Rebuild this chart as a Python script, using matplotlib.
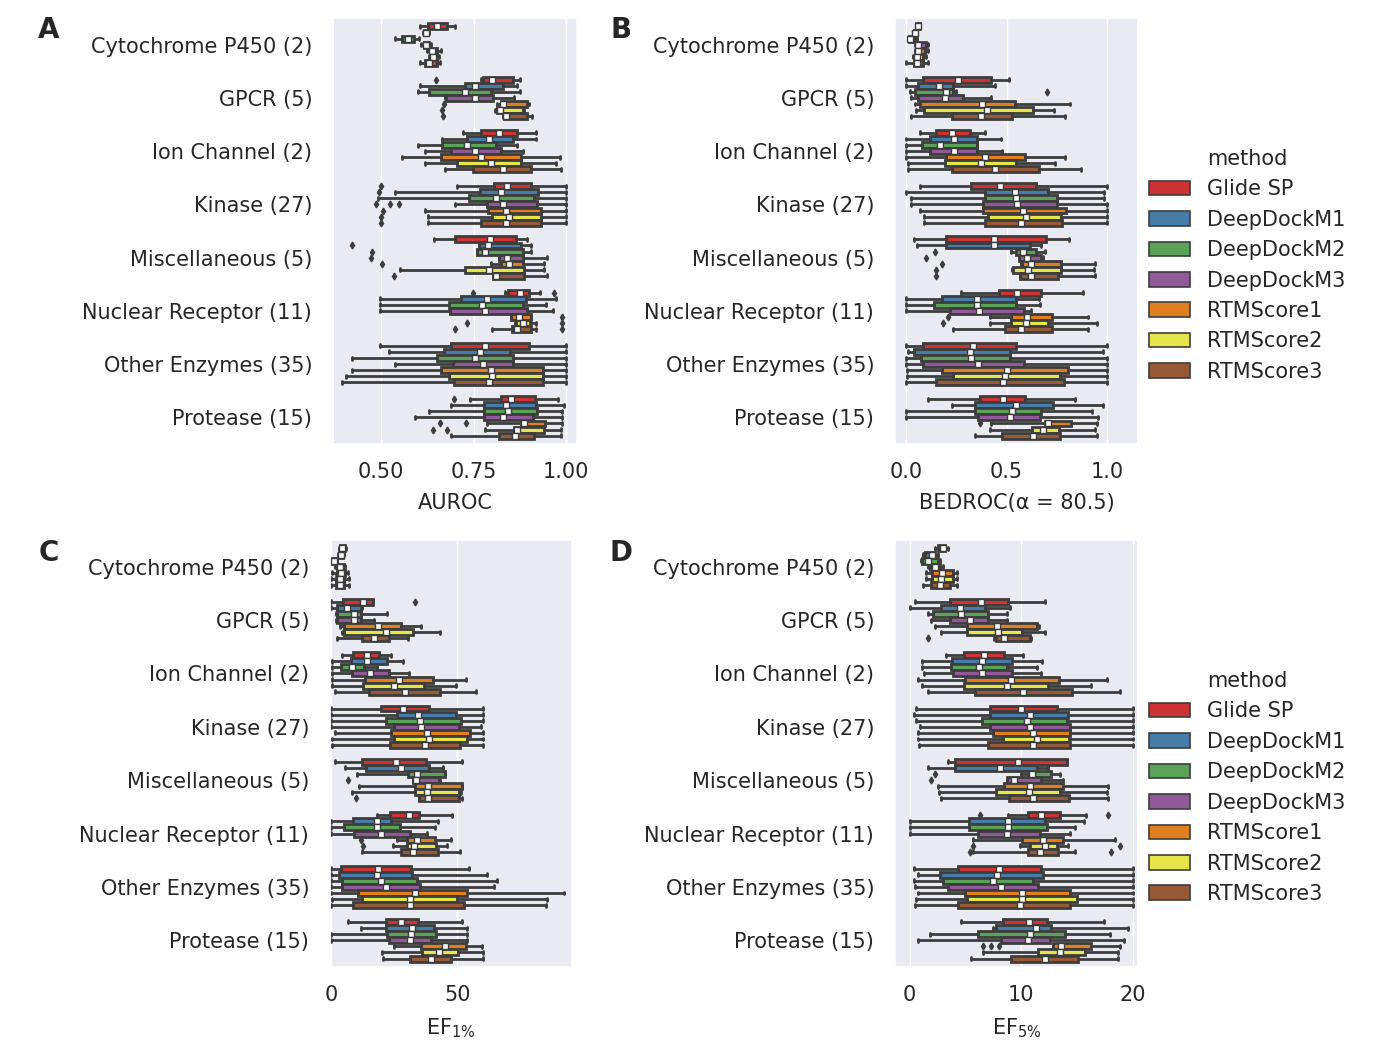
import matplotlib
matplotlib.use('Agg')
import matplotlib.pyplot as plt
import seaborn as sns
from matplotlib.patches import Patch

sns.set_theme(style='darkgrid')
plt.rcParams['font.family'] = ['DejaVu Sans']

categories = ['Cytochrome P450 (2)', 'GPCR (5)', 'Ion Channel (2)', 'Kinase (27)',
              'Miscellaneous (5)', 'Nuclear Receptor (11)', 'Other Enzymes (35)', 'Protease (15)']
methods = ['Glide SP', 'DeepDockM1', 'DeepDockM2', 'DeepDockM3', 'RTMScore1', 'RTMScore2', 'RTMScore3']

# AUROC box stats (rows = categories, cols = methods)
auroc_lo = [[0.605, 0.614, 0.539, 0.608, 0.625, 0.629, 0.606],
            [0.769, 0.605, 0.599, 0.672, 0.814, 0.808, 0.830],
            [0.722, 0.665, 0.599, 0.620, 0.557, 0.620, 0.672],
            [0.706, 0.537, 0.492, 0.701, 0.618, 0.627, 0.627],
            [0.643, 0.764, 0.760, 0.819, 0.796, 0.552, 0.801],
            [0.835, 0.498, 0.498, 0.498, 0.850, 0.862, 0.799],
            [0.498, 0.521, 0.423, 0.539, 0.423, 0.406, 0.394],
            [0.740, 0.690, 0.631, 0.593, 0.787, 0.782, 0.690]]
auroc_q1 = [[0.626, 0.616, 0.557, 0.616, 0.632, 0.634, 0.620],
            [0.776, 0.726, 0.631, 0.676, 0.823, 0.812, 0.832],
            [0.769, 0.731, 0.665, 0.690, 0.661, 0.706, 0.749],
            [0.805, 0.767, 0.737, 0.787, 0.790, 0.799, 0.771],
            [0.701, 0.764, 0.760, 0.819, 0.823, 0.728, 0.801],
            [0.843, 0.715, 0.683, 0.686, 0.852, 0.864, 0.853],
            [0.688, 0.670, 0.650, 0.695, 0.661, 0.683, 0.697],
            [0.825, 0.778, 0.778, 0.778, 0.879, 0.859, 0.819]]
auroc_med = [[0.652, 0.622, 0.572, 0.622, 0.638, 0.641, 0.631],
             [0.800, 0.754, 0.727, 0.753, 0.829, 0.820, 0.837],
             [0.819, 0.792, 0.733, 0.755, 0.769, 0.796, 0.828],
             [0.839, 0.825, 0.810, 0.828, 0.838, 0.846, 0.837],
             [0.794, 0.790, 0.780, 0.840, 0.845, 0.792, 0.810],
             [0.875, 0.787, 0.773, 0.782, 0.873, 0.882, 0.868],
             [0.780, 0.766, 0.754, 0.776, 0.798, 0.799, 0.792],
             [0.850, 0.837, 0.843, 0.829, 0.886, 0.868, 0.861]]
auroc_q3 = [[0.677, 0.627, 0.588, 0.629, 0.650, 0.650, 0.650],
            [0.855, 0.828, 0.796, 0.803, 0.895, 0.884, 0.895],
            [0.868, 0.855, 0.811, 0.823, 0.877, 0.879, 0.904],
            [0.906, 0.924, 0.913, 0.922, 0.931, 0.931, 0.931],
            [0.864, 0.877, 0.882, 0.882, 0.882, 0.886, 0.886],
            [0.900, 0.891, 0.882, 0.895, 0.904, 0.903, 0.904],
            [0.900, 0.848, 0.857, 0.855, 0.936, 0.936, 0.936],
            [0.915, 0.918, 0.922, 0.909, 0.942, 0.940, 0.912]]
auroc_hi = [[0.701, 0.630, 0.602, 0.634, 0.661, 0.656, 0.659],
            [0.875, 0.868, 0.875, 0.860, 0.900, 0.886, 0.907],
            [0.918, 0.918, 0.868, 0.882, 0.984, 0.972, 0.986],
            [0.999, 0.999, 0.999, 0.999, 0.999, 1.0, 1.0],
            [0.894, 0.904, 0.904, 0.949, 0.940, 0.940, 0.949],
            [0.930, 0.972, 0.945, 0.963, 0.905, 0.918, 0.918],
            [0.999, 0.999, 0.999, 0.999, 0.999, 0.999, 0.999],
            [0.977, 0.995, 0.987, 0.987, 0.987, 0.986, 0.986]]
auroc_fliers = {(1, 0): [0.648], (1, 4): [0.670], (1, 5): [0.665], (1, 6): [0.667],
                (3, 0): [0.501], (3, 1): [0.496], (3, 3): [0.486, 0.525, 0.548], (3, 4): [0.507],
                (3, 5): [0.500], (3, 6): [0.500],
                (4, 1): [0.423], (4, 2): [0.477], (4, 3): [0.473], (4, 4): [0.503], (4, 6): [0.534],
                (5, 0): [0.749, 0.966], (5, 4): [0.987], (5, 5): [0.733, 0.987], (5, 6): [0.701, 0.987],
                (7, 0): [0.697], (7, 4): [0.659, 0.730], (7, 5): [0.640, 0.677]}

# BEDROC
bedroc_lo = [[0.050, 0.035, 0.010, 0.045, 0.045, 0.036, 0.003],
             [0.0, 0.0, 0.020, 0.028, 0.045, 0.053, 0.028],
             [0.069, 0.003, 0.003, 0.003, 0.003, 0.012, 0.012],
             [0.069, 0.003, 0.028, 0.028, 0.069, 0.089, 0.089],
             [0.040, 0.056, 0.524, 0.562, 0.574, 0.529, 0.565],
             [0.276, 0.0, 0.0, 0.0, 0.417, 0.420, 0.235],
             [0.003, 0.012, 0.0, 0.0, 0.007, 0.007, 0.0],
             [0.111, 0.227, 0.0, 0.0, 0.425, 0.417, 0.342]]
bedroc_q1 = [[0.053, 0.040, 0.015, 0.053, 0.053, 0.045, 0.040],
             [0.086, 0.061, 0.045, 0.061, 0.069, 0.089, 0.231],
             [0.149, 0.119, 0.083, 0.122, 0.202, 0.193, 0.227],
             [0.326, 0.392, 0.392, 0.384, 0.384, 0.408, 0.392],
             [0.202, 0.202, 0.549, 0.562, 0.576, 0.532, 0.567],
             [0.463, 0.182, 0.139, 0.218, 0.524, 0.524, 0.491],
             [0.086, 0.040, 0.078, 0.086, 0.182, 0.235, 0.149],
             [0.370, 0.342, 0.342, 0.359, 0.690, 0.628, 0.479]]
bedroc_med = [[0.061, 0.045, 0.020, 0.061, 0.061, 0.056, 0.056],
              [0.260, 0.164, 0.200, 0.193, 0.380, 0.405, 0.372],
              [0.231, 0.238, 0.169, 0.238, 0.395, 0.372, 0.441],
              [0.466, 0.541, 0.549, 0.554, 0.582, 0.595, 0.574],
              [0.438, 0.438, 0.580, 0.600, 0.623, 0.607, 0.620],
              [0.554, 0.355, 0.355, 0.364, 0.599, 0.595, 0.574],
              [0.334, 0.321, 0.326, 0.359, 0.503, 0.491, 0.480],
              [0.483, 0.549, 0.529, 0.516, 0.706, 0.681, 0.632]]
bedroc_q3 = [[0.069, 0.050, 0.045, 0.103, 0.094, 0.086, 0.086],
             [0.422, 0.235, 0.235, 0.284, 0.541, 0.632, 0.527],
             [0.317, 0.354, 0.351, 0.354, 0.590, 0.549, 0.660],
             [0.648, 0.706, 0.751, 0.751, 0.797, 0.772, 0.777],
             [0.694, 0.615, 0.648, 0.673, 0.772, 0.772, 0.756],
             [0.670, 0.549, 0.549, 0.585, 0.723, 0.706, 0.723],
             [0.549, 0.519, 0.519, 0.585, 0.805, 0.764, 0.784],
             [0.590, 0.728, 0.673, 0.665, 0.817, 0.761, 0.764]]
bedroc_hi = [[0.073, 0.055, 0.055, 0.111, 0.111, 0.103, 0.111],
             [0.511, 0.445, 0.251, 0.422, 0.813, 0.736, 0.789],
             [0.395, 0.470, 0.351, 0.478, 0.789, 0.739, 0.871],
             [1.0, 0.982, 0.982, 1.0, 1.0, 1.0, 1.0],
             [0.810, 0.673, 0.690, 0.680, 0.938, 0.934, 0.938],
             [0.880, 0.660, 0.665, 0.623, 0.904, 0.946, 0.904],
             [1.0, 0.979, 1.0, 1.0, 1.0, 1.0, 1.0],
             [0.838, 0.976, 0.926, 0.954, 0.949, 0.938, 0.946]]
bedroc_fliers = {(1, 2): [0.701], (4, 2): [0.147], (4, 3): [0.103], (4, 4): [0.182],
                 (4, 5): [0.152], (4, 6): [0.152], (5, 4): [0.21], (5, 5): [0.185], (7, 4): [0.370]}

# EF 1%
ef1_lo = [[3.0, 2.6, 0.0, 1.3, 0.4, 0.0, 0.0],
          [0.0, 0.0, 1.7, 1.7, 3.4, 4.4, 2.1],
          [4.4, 0.4, 0.4, 0.4, 0.4, 0.4, 1.3],
          [0.0, 0.0, 0.0, 0.0, 1.3, 0.4, 0.4],
          [1.3, 5.3, 10.3, 32.5, 11.0, 8.3, 34.8],
          [18.0, 0.0, 0.0, 0.0, 25.9, 24.6, 12.3],
          [0.0, 0.0, 0.0, 0.0, 0.0, 0.4, 0.0],
          [6.6, 11.9, 0.0, 0.0, 24.9, 20.2, 20.6]]
ef1_q1 = [[3.4, 3.0, 0.4, 2.4, 2.1, 1.7, 1.7],
          [4.8, 2.4, 2.4, 2.1, 5.0, 5.0, 12.3],
          [8.7, 7.7, 3.7, 8.3, 13.2, 12.7, 14.9],
          [19.6, 26.2, 21.6, 24.9, 23.5, 24.9, 23.3],
          [12.3, 13.6, 30.6, 32.5, 33.1, 33.1, 34.8],
          [23.3, 8.7, 5.0, 9.0, 30.2, 30.2, 27.5],
          [3.7, 3.0, 4.4, 4.4, 10.6, 12.3, 8.7],
          [21.6, 21.6, 22.2, 22.9, 35.7, 36.1, 31.2]]
ef1_med = [[4.4, 3.7, 1.1, 3.4, 3.7, 3.4, 3.4],
           [12.7, 6.1, 9.0, 9.0, 18.5, 21.6, 16.9],
           [14.0, 14.3, 8.3, 15.3, 26.9, 24.9, 29.1],
           [28.6, 34.4, 35.2, 35.4, 37.8, 38.8, 37.0],
           [25.5, 27.8, 33.9, 33.5, 38.4, 37.8, 38.4],
           [30.8, 18.0, 18.0, 19.6, 34.1, 32.8, 32.5],
           [18.5, 18.3, 19.6, 21.6, 33.1, 31.2, 31.2],
           [27.8, 32.1, 31.5, 31.2, 45.0, 42.7, 39.4]]
ef1_q3 = [[5.3, 4.8, 2.1, 5.0, 5.3, 5.0, 5.0],
          [16.7, 11.6, 11.6, 11.6, 27.8, 32.5, 22.9],
          [18.9, 22.0, 13.0, 22.9, 40.5, 36.8, 43.1],
          [38.8, 49.3, 51.3, 50.7, 55.0, 54.0, 51.1],
          [37.4, 38.8, 45.0, 42.7, 52.0, 50.7, 50.7],
          [34.8, 23.8, 27.2, 31.2, 41.1, 41.4, 42.3],
          [31.5, 32.1, 34.1, 35.2, 53.7, 49.7, 52.6],
          [34.4, 40.7, 41.4, 39.4, 53.3, 50.3, 47.6]]
ef1_hi = [[5.7, 5.0, 2.4, 5.3, 6.6, 7.0, 7.0],
          [16.7, 12.0, 22.0, 16.9, 35.7, 43.1, 30.4],
          [23.8, 28.6, 18.3, 30.8, 53.3, 49.3, 57.3],
          [60.3, 60.3, 60.3, 59.5, 60.3, 60.3, 60.3],
          [52.0, 44.4, 45.0, 43.0, 52.0, 51.3, 52.0],
          [48.0, 42.3, 41.0, 38.1, 47.6, 45.8, 51.1],
          [54.6, 61.6, 65.6, 64.6, 92.3, 85.4, 85.1],
          [52.0, 53.7, 53.7, 53.7, 59.9, 60.3, 60.3]]
ef1_fliers = {(1, 0): [33.1], (4, 3): [6.6], (4, 6): [9.7], (5, 4): [11.6], (5, 5): [12.7]}

# EF 5%
ef5_lo = [[2.3, 1.2, 1.0, 1.6, 1.5, 1.5, 1.2],
          [0.5, 0.0, 1.6, 1.9, 2.3, 2.8, 7.6],
          [3.3, 1.1, 1.1, 1.3, 0.7, 1.1, 1.6],
          [0.6, 0.4, 0.6, 0.9, 0.7, 0.7, 0.8],
          [3.4, 1.6, 10.0, 8.7, 2.5, 2.6, 2.8],
          [8.8, 0.0, 0.0, 0.0, 5.7, 9.9, 5.7],
          [0.4, 0.7, 0.4, 0.5, 0.7, 0.6, 0.5],
          [4.6, 7.5, 1.8, 0.7, 12.9, 6.6, 5.5]]
ef5_q1 = [[2.5, 1.35, 1.1, 1.8, 2.0, 2.0, 1.9],
          [3.6, 2.8, 2.1, 3.6, 5.1, 5.1, 7.7],
          [4.9, 3.8, 3.7, 3.9, 5.0, 4.9, 5.9],
          [7.2, 7.2, 6.5, 7.2, 7.5, 8.4, 7.0],
          [4.1, 4.1, 10.7, 8.7, 8.5, 7.7, 8.9],
          [10.6, 5.3, 5.3, 6.1, 10.1, 10.8, 10.6],
          [4.3, 2.7, 3.0, 3.4, 5.0, 5.1, 4.3],
          [8.4, 7.7, 6.1, 8.2, 12.9, 11.5, 9.1]]
ef5_med = [[3.0, 2.0, 1.6, 2.3, 2.9, 2.8, 2.7],
           [6.4, 4.5, 4.6, 5.4, 7.8, 7.9, 8.5],
           [6.7, 6.5, 6.2, 6.5, 9.1, 8.7, 10.2],
           [10.0, 10.8, 10.5, 10.8, 11.1, 11.4, 11.1],
           [9.7, 8.1, 11.0, 9.4, 10.8, 10.7, 11.1],
           [11.8, 8.8, 8.8, 8.7, 12.0, 12.1, 11.7],
           [8.0, 7.8, 7.5, 8.2, 10.1, 10.1, 9.9],
           [10.7, 11.3, 10.8, 10.6, 13.6, 13.5, 12.1]]
ef5_q3 = [[3.2, 2.3, 2.5, 2.7, 3.9, 3.9, 3.6],
          [8.8, 6.8, 7.0, 7.0, 11.4, 10.1, 10.8],
          [8.5, 9.2, 8.7, 9.2, 13.4, 12.4, 14.6],
          [13.2, 14.2, 14.1, 14.4, 14.4, 14.3, 14.4],
          [14.1, 11.4, 12.7, 11.8, 13.8, 13.5, 14.3],
          [13.5, 12.1, 12.3, 11.7, 13.8, 13.2, 13.3],
          [11.8, 12.0, 11.1, 11.5, 14.4, 15.0, 14.4],
          [12.3, 12.7, 13.9, 12.6, 16.3, 15.7, 15.1]]
ef5_hi = [[3.4, 2.5, 2.7, 3.0, 4.2, 4.2, 4.2],
          [12.1, 9.0, 8.7, 8.7, 11.6, 12.1, 10.9],
          [10.2, 11.9, 11.4, 11.8, 17.7, 16.3, 18.9],
          [20.0, 20.0, 20.0, 20.0, 20.0, 20.0, 20.0],
          [14.1, 12.4, 13.5, 13.8, 17.8, 17.7, 17.8],
          [15.8, 15.6, 14.8, 14.4, 18.4, 14.2, 14.8],
          [20.0, 20.0, 20.0, 20.0, 20.0, 20.0, 20.0],
          [17.4, 19.6, 18.0, 19.2, 18.9, 18.7, 18.7]]
ef5_fliers = {(1, 6): [1.6], (4, 2): [2.3], (4, 3): [1.9], (5, 0): [6.3, 17.8],
              (5, 5): [5.7, 18.9], (5, 6): [5.4, 18.1], (7, 4): [6.6, 7.3, 8.0]}

colors = sns.color_palette('Set1', 7, desat=0.75)
gray = '#3d3d3d'
lw = 2.0
fs = 15


def draw(ax, lo, q1, med, q3, hi, fliers):
    n = len(methods)
    w = 0.8 / n
    for i in range(len(categories)):
        for j in range(n):
            st = dict(whislo=lo[i][j], q1=q1[i][j], med=med[i][j], q3=q3[i][j],
                      whishi=hi[i][j], mean=med[i][j], fliers=fliers.get((i, j), []))
            pos = i + (j - (n - 1) / 2) * w
            ax.bxp([st], positions=[pos], widths=w * 0.98, orientation='horizontal',
                   patch_artist=True, showmeans=True, manage_ticks=False,
                   boxprops=dict(facecolor=colors[j], edgecolor=gray, linewidth=lw),
                   whiskerprops=dict(color=gray, linewidth=lw),
                   capprops=dict(color=gray, linewidth=lw),
                   medianprops=dict(color=gray, linewidth=lw),
                   meanprops=dict(marker='s', markerfacecolor='white', markeredgecolor=gray,
                                  markersize=4.5, markeredgewidth=1),
                   flierprops=dict(marker='d', markerfacecolor=gray, markeredgecolor=gray,
                                   markersize=3.5))
    ax.set_yticks(range(len(categories)))
    ax.set_yticklabels(categories, fontsize=fs)
    ax.set_ylim(len(categories) - 0.5, -0.5)
    ax.yaxis.grid(False)
    ax.tick_params(axis='y', pad=15, length=0)
    ax.tick_params(axis='x', pad=13, length=0, labelsize=fs)


fig = plt.figure(figsize=(13.74, 10.62), dpi=100)
axA = fig.add_axes([0.2424, 0.5819, 0.1776, 0.4011])
axB = fig.add_axes([0.6514, 0.5819, 0.1769, 0.4011])
axC = fig.add_axes([0.2402, 0.0895, 0.1761, 0.402])
axD = fig.add_axes([0.6514, 0.0895, 0.1769, 0.402])

draw(axA, auroc_lo, auroc_q1, auroc_med, auroc_q3, auroc_hi, auroc_fliers)
axA.set_xlim(0.371, 1.029)
axA.set_xticks([0.5, 0.75, 1.0])
axA.set_xticklabels(['0.50', '0.75', '1.00'])
axA.set_xlabel('AUROC', fontsize=fs, labelpad=8)

draw(axB, bedroc_lo, bedroc_q1, bedroc_med, bedroc_q3, bedroc_hi, bedroc_fliers)
axB.set_xlim(-0.053, 1.152)
axB.set_xticks([0.0, 0.5, 1.0])
axB.set_xticklabels(['0.0', '0.5', '1.0'])
axB.set_xlabel('BEDROC(α = 80.5)', fontsize=fs, labelpad=8)

draw(axC, ef1_lo, ef1_q1, ef1_med, ef1_q3, ef1_hi, ef1_fliers)
axC.set_xlim(-0.5, 95.5)
axC.set_xticks([0, 50])
axC.set_xlabel('EF$_{1\\%}$', fontsize=fs, labelpad=8)

draw(axD, ef5_lo, ef5_q1, ef5_med, ef5_q3, ef5_hi, ef5_fliers)
axD.set_xlim(-1.32, 20.5)
axD.set_xticks([0, 10, 20])
axD.set_xlabel('EF$_{5\\%}$', fontsize=fs, labelpad=8)

handles = [Patch(facecolor=colors[j], edgecolor=gray, linewidth=1.2, label=m) for j, m in enumerate(methods)]
for ax in (axB, axD):
    ax.legend(handles=handles, title='method', loc='upper left', bbox_to_anchor=(0.967, 0.737),
              frameon=False, fontsize=fs, title_fontsize=fs, handlelength=2.0, handleheight=0.7,
              labelspacing=0.5, handletextpad=0.8)

for letter, x, y in [('A', 0.0357, 0.972), ('B', 0.452, 0.972), ('C', 0.0357, 0.479), ('D', 0.452, 0.479)]:
    fig.text(x, y, letter, fontsize=20, fontweight='bold', ha='center', va='center')

fig.savefig('out.png', dpi=100)
